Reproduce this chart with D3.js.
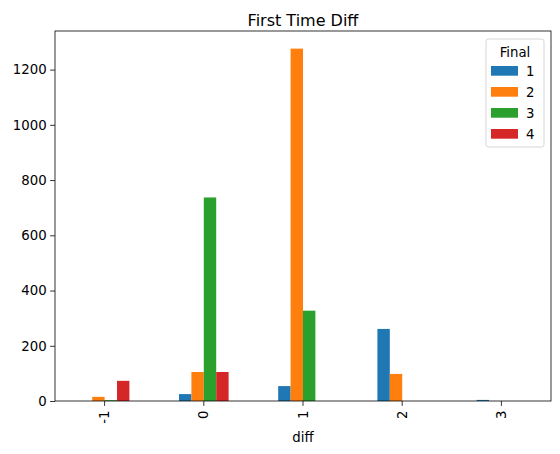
<!DOCTYPE html>
<html>
<head>
<meta charset="utf-8">
<script src="https://cdn.jsdelivr.net/npm/d3@7"></script>
<style>
  body { margin: 0; background: #fff; }
  text { font-family: "DejaVu Sans", sans-serif; fill: #000; }
</style>
</head>
<body>
<div id="chart"></div>
<script>
// diff categories on the x axis
const diffs = ["-1", "0", "1", "2", "3"];
// series keys (Final)
const finals = ["1", "2", "3", "4"];
// counts per Final, one value per diff
const final1 = [0, 25, 54, 261, 4];
const final2 = [15, 105, 1276, 98, 0];
const final3 = [3, 737, 327, 0, 0];
const final4 = [73, 105, 0, 0, 0];
const yTicks = [0, 200, 400, 600, 800, 1000, 1200];

const colors = ["#1f77b4", "#ff7f0e", "#2ca02c", "#d62728"];
const seriesVals = [final1, final2, final3, final4];

const W = 560, H = 454;
const margin = {top: 31, right: 9, bottom: 53, left: 55};
const width = W - margin.left - margin.right,
      height = H - margin.top - margin.bottom;
const fs = "13.3px";

const svg = d3.select("#chart").append("svg")
    .attr("width", W).attr("height", H);
const g = svg.append("g")
    .attr("transform", "translate(" + margin.left + "," + margin.top + ")");

const x = d3.scaleBand().domain(diffs).range([0, width])
    .paddingInner(0.5).paddingOuter(0.25);
const xs = d3.scaleBand().domain(finals).range([0, x.bandwidth()]);
const ymax = d3.max(seriesVals.flat()) * 1.05;
const y = d3.scaleLinear().domain([0, ymax]).range([height, 0]);

// bars
const rows = diffs.map((d, i) => ({diff: d, vals: finals.map((f, j) => ({f: f, v: seriesVals[j][i], c: colors[j]}))}));
g.selectAll(".grp").data(rows).enter().append("g")
    .attr("transform", d => "translate(" + x(d.diff) + ",0)")
    .selectAll("rect").data(d => d.vals).enter().append("rect")
    .attr("x", d => xs(d.f))
    .attr("width", xs.bandwidth())
    .attr("y", d => y(d.v))
    .attr("height", d => height - y(d.v))
    .attr("fill", d => d.c);

// axes
const yAxis = g.append("g")
    .call(d3.axisLeft(y).tickValues(yTicks).tickFormat(d3.format("d")).tickSize(4.9).tickPadding(3.5));
yAxis.selectAll("text").style("font-size", fs);
const xAxis = g.append("g").attr("transform", "translate(0," + height + ")")
    .call(d3.axisBottom(x).tickSize(4.9).tickPadding(3.5));
xAxis.selectAll("text")
    .style("font-size", fs)
    .attr("transform", "rotate(-90)")
    .attr("text-anchor", "end")
    .attr("x", -9.5).attr("y", 0).attr("dy", "0.35em");
[yAxis, xAxis].forEach(a => {
  a.select(".domain").remove();
  a.selectAll("line").attr("stroke", "#000").attr("stroke-width", 0.8);
});

// frame
g.append("rect").attr("width", width).attr("height", height)
    .attr("fill", "none").attr("stroke", "#000").attr("stroke-width", 0.8);

// title and label
svg.append("text").attr("x", margin.left + width / 2).attr("y", 25.5)
    .attr("text-anchor", "middle").style("font-size", "16px").text("First Time Diff");
svg.append("text").attr("x", margin.left + width / 2).attr("y", 441.5)
    .attr("text-anchor", "middle").style("font-size", fs).text("diff");

// legend
const lg = svg.append("g").attr("transform", "translate(486,39)");
lg.append("rect").attr("width", 58).attr("height", 108).attr("rx", 2.5)
    .attr("fill", "#fff").attr("fill-opacity", 0.8)
    .attr("stroke", "#ccc").attr("stroke-width", 0.8);
lg.append("text").attr("x", 29).attr("y", 17.5).attr("text-anchor", "middle")
    .style("font-size", fs).text("Final");
finals.forEach((f, i) => {
  lg.append("rect").attr("x", 5).attr("y", 27 + i * 21).attr("width", 27).attr("height", 9.7)
      .attr("fill", colors[i]);
  lg.append("text").attr("x", 40).attr("y", 36.5 + i * 21)
      .style("font-size", fs).text(f);
});
</script>
</body>
</html>
